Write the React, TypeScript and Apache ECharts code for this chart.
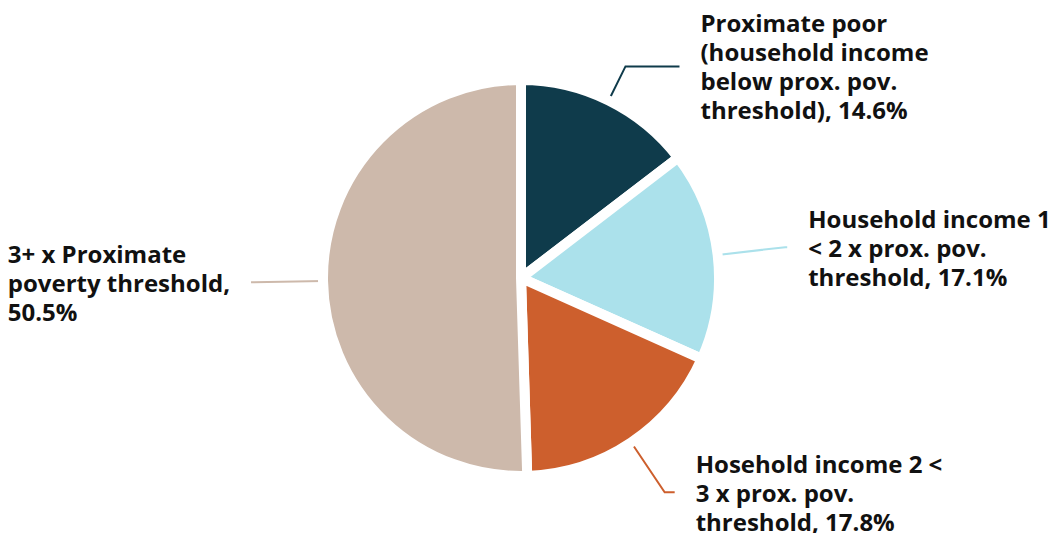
import React, { useEffect, useRef } from "react";
import * as echarts from "echarts";

const categories = [
  "Proximate poor\n(household income\nbelow prox. pov.\nthreshold)",
  "Household income 1\n< 2 x prox. pov.\nthreshold",
  "Hosehold income 2 <\n3 x prox. pov.\nthreshold",
  "3+ x Proximate\npoverty threshold",
];
const values = [14.6, 17.1, 17.8, 50.5];
const percentSeparators = [", ", ", ", ", ", ",\n"];
const colors = ["#0f3b4b", "#abe1eb", "#cd5f2d", "#cdb9ab"];
const lineLengths = [38, 68, 60, 70];
const lineLengths2 = [54, 2, 10, 2];

export default function App() {
  const ref = useRef<HTMLDivElement>(null);
  useEffect(() => {
    if (!ref.current) return;
    const chart = echarts.init(ref.current, undefined, { renderer: "svg" });
    const data = categories.map((name, i) => ({
      name,
      value: values[i],
      itemStyle: { color: colors[i] },
      labelLine: { length: lineLengths[i], length2: lineLengths2[i] },
    }));
    chart.setOption({
      animation: false,
      backgroundColor: "#ffffff",
      series: [
        {
          type: "pie",
          center: [521, 278],
          radius: 198,
          startAngle: 90,
          clockwise: true,
          avoidLabelOverlap: false,
          data,
          itemStyle: { borderColor: "#ffffff", borderWidth: 10 },
          label: {
            show: true,
            position: "outside",
            distanceToLabelLine: 21,
            formatter: (p: any) => {
              const lines = (
                p.name +
                percentSeparators[p.dataIndex] +
                p.value.toFixed(1) +
                "%"
              ).split("\n");
              return lines.map((l: string) => "{a|" + l + "}").join("\n");
            },
            rich: {
              a: {
                align: "left",
                fontFamily: "Open Sans",
                fontWeight: "bold",
                fontSize: 24,
                lineHeight: 29,
                color: "#111111",
              },
            },
          },
          labelLine: { show: true, lineStyle: { width: 2 } },
        },
      ],
    });
    return () => chart.dispose();
  }, []);
  return (
    <div
      ref={ref}
      style={{ position: "fixed", left: 0, top: 0, width: 1053, height: 533 }}
    />
  );
}
